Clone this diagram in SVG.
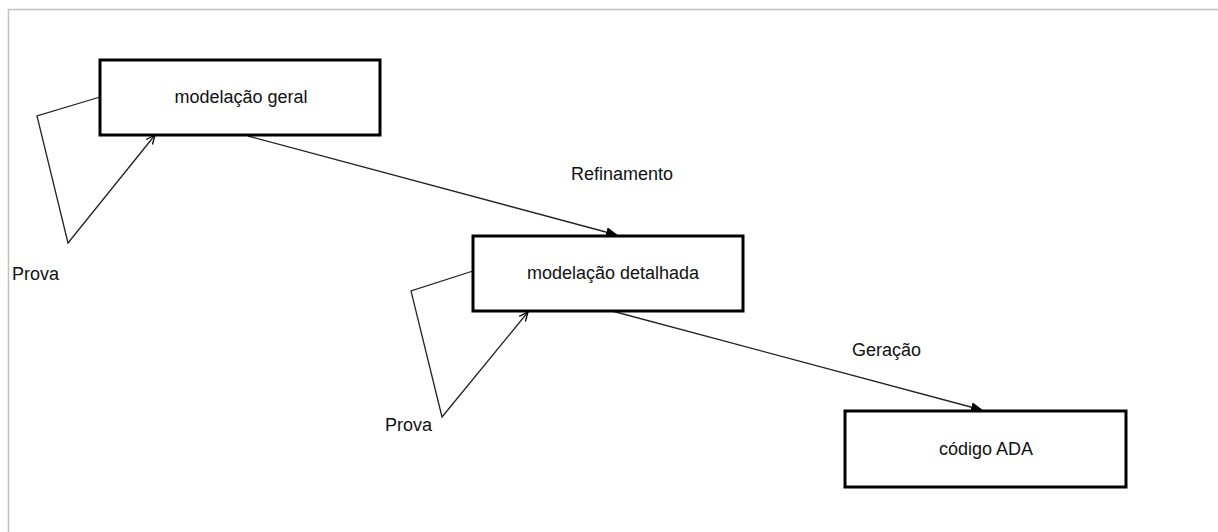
<svg xmlns="http://www.w3.org/2000/svg" width="1218" height="532" viewBox="0 0 1218 532">
<style>
.box{fill:#fff;stroke:#000;stroke-width:3}
.lbl{font-family:"Liberation Sans",Arial,sans-serif;font-size:18px;fill:#111}
.c{text-anchor:middle}
.ln{fill:none;stroke:#222;stroke-width:1.3}
</style>
<defs>
<marker id="fill" markerWidth="12" markerHeight="10" refX="11" refY="5" orient="auto" markerUnits="userSpaceOnUse">
<path d="M0,0 L12,5 L0,10 Z" fill="#000"/>
</marker>
<marker id="open" markerWidth="10" markerHeight="10" refX="9" refY="5" orient="auto" markerUnits="userSpaceOnUse">
<path d="M0,1 L9,5 L0,9" fill="none" stroke="#000" stroke-width="1.3"/>
</marker>
</defs>
<rect width="1218" height="532" fill="#fff"/>
<path d="M8.5,532 V9.5 H1218" fill="none" stroke="#c0c0c0" stroke-width="1.5"/>
<g id="connectors">
<polyline class="ln" points="100,97 37,116 68,243 155,135" marker-end="url(#open)"/>
<polyline class="ln" points="473,271 411,291 442,417 528,312" marker-end="url(#open)"/>
<line class="ln" x1="248" y1="136" x2="617" y2="235" marker-end="url(#fill)"/>
<line class="ln" x1="612" y1="311" x2="982" y2="410" marker-end="url(#fill)"/>
<text class="lbl" x="571" y="180">Refinamento</text>
<text class="lbl" x="852" y="356">Geração</text>
<text class="lbl" x="12" y="280">Prova</text>
<text class="lbl" x="385" y="431">Prova</text>
</g>
<g id="n1">
<rect class="box" x="100" y="60" width="280" height="75"/>
<text class="lbl c" x="241" y="103">modelação geral</text>
</g>
<g id="n2">
<rect class="box" x="473" y="236" width="270" height="75"/>
<text class="lbl c" x="613" y="279">modelação detalhada</text>
</g>
<g id="n3">
<rect class="box" x="845" y="411" width="281" height="76"/>
<text class="lbl c" x="986" y="455">código ADA</text>
</g>
</svg>
